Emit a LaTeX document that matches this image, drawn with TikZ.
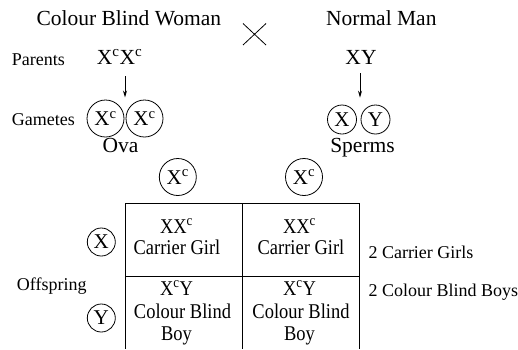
\documentclass[tikz,border=0pt]{standalone}
\usepackage{fontspec}
\setmainfont{Liberation Serif}
\newfontfamily\narrowserif{Liberation Serif}[FakeStretch=0.88]
\usetikzlibrary{arrows.meta}
\newcommand{\cc}{\textsuperscript{c}}
\tikzset{
  big/.style={font=\fontsize{21.5}{24}\selectfont, inner sep=0pt},
  cell/.style={font=\narrowserif\fontsize{21}{24}\selectfont, inner sep=0pt},
  small/.style={font=\fontsize{18}{20}\selectfont, inner sep=0pt},
  gam/.style={draw, circle, line width=0.8pt, inner sep=0pt, font=\fontsize{21}{24}\selectfont},
  arr/.style={line width=0.9pt, -{Stealth[length=7pt,width=4pt]}},
  grid/.style={line width=1pt}
}
\begin{document}
\begin{tikzpicture}[x=1pt,y=-1pt]
\useasboundingbox (0,0) rectangle (518,349);
% titles
\node[big, anchor=base] (woman) at (128.8,25.7) {Colour Blind Woman};
\node[big, anchor=base] (man) at (381.3,25.7) {Normal Man};
\coordinate (c1) at (243,23.5); \coordinate (c2) at (266,45);
\coordinate (c3) at (243,45); \coordinate (c4) at (266,23.5);
\draw[line width=0.8pt] (c1) -- (c2) (c3) -- (c4);
% parents
\node[small, anchor=base west] (parents) at (11.7,65) {Parents};
\node[big, anchor=base west] (pw) at (96.7,64) {X\cc X\cc};
\node[big, anchor=base] (pm) at (361,64.3) {XY};
\coordinate (aw1) at (125,76); \coordinate (aw2) at (125,97.5);
\coordinate (am1) at (360,73); \coordinate (am2) at (360,97.7);
\draw[arr] (aw1) -- (aw2);
\draw[arr] (am1) -- (am2);
% gametes
\node[small, anchor=base west] (gametes) at (11.7,125) {Gametes};
\node[gam, minimum size=37pt] (o1) at (105.5,118.5) {X\cc};
\node[gam, minimum size=37pt] (o2) at (144.5,118.5) {X\cc};
\node[gam, minimum size=29pt] (s1) at (342,119.5) {X};
\node[gam, minimum size=29pt] (s2) at (375.5,119.5) {Y};
\node[big, anchor=base] (ova) at (120.5,152.7) {Ova};
\node[big, anchor=base] (sperms) at (362.5,152.7) {Sperms};
% column gametes
\node[gam, minimum size=37pt] (col1) at (177.8,177) {X\cc};
\node[gam, minimum size=37pt] (col2) at (304,177) {X\cc};
% row gametes
\node[gam, minimum size=28pt] (row1) at (101.3,242) {X};
\node[gam, minimum size=28pt] (row2) at (101.3,318) {Y};
\node[small, anchor=base west] (offspring) at (16.7,290) {Offspring};
% table
\coordinate (t1) at (125,203.3); \coordinate (t2) at (242.7,203.3); \coordinate (t3) at (359.3,203.3);
\coordinate (m1) at (125,276.7); \coordinate (m3) at (359.3,276.7);
\coordinate (b1) at (125,349); \coordinate (b2) at (242.7,349); \coordinate (b3) at (359.3,349);
\draw[grid] (t1) -- (t3) (m1) -- (m3) (t1) -- (b1) (t2) -- (b2) (t3) -- (b3);
% cells
\node[cell, anchor=base] (g1a) at (176.5,233.3) {XX\cc};
\node[cell, anchor=base] (g1b) at (177,254.3) {Carrier Girl};
\node[cell, anchor=base] (g2a) at (299.5,233.3) {XX\cc};
\node[cell, anchor=base] (g2b) at (301,254.3) {Carrier Girl};
\node[cell, anchor=base] (b1a) at (176.5,295.5) {X\cc Y};
\node[cell, anchor=base] (b1b) at (182.5,318) {Colour Blind};
\node[cell, anchor=base] (b1c) at (176.5,340.5) {Boy};
\node[cell, anchor=base] (b2a) at (299.5,295.5) {X\cc Y};
\node[cell, anchor=base] (b2b) at (301,318) {Colour Blind};
\node[cell, anchor=base] (b2c) at (299.5,340.5) {Boy};
% summary
\node[small, anchor=base west] (sum1) at (368.3,258.3) {2 Carrier Girls};
\node[small, anchor=base west] (sum2) at (368.3,296.7) {2 Colour Blind Boys};
\end{tikzpicture}
\end{document}
